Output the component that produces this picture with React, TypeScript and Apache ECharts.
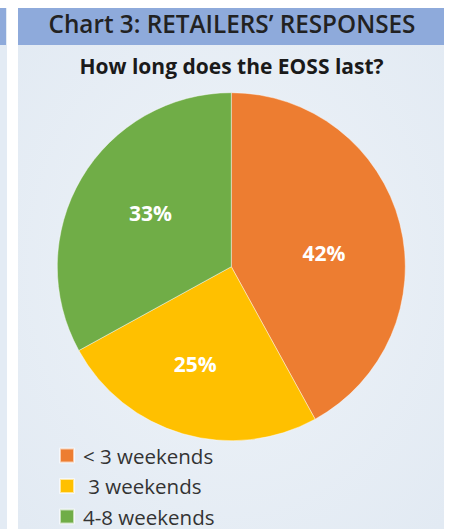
import React, { useEffect, useRef } from "react";
import * as echarts from "echarts";

const categories = ["< 3 weekends", " 3 weekends", "4-8 weekends"];
const values = [42, 25, 33];
const colors = ["#ED7D31", "#FFC000", "#70AD47"];
const labelOffsets = [
  [5.5, 8.5],
  [-11, 11.3],
  [-3.4, -7.9],
];
const headerTitle = "Chart 3: RETAILERS\u2019 RESPONSES";
const subTitle = "How long does the EOSS last?";

const FONT = "'Open Sans', 'Noto Sans', sans-serif";

export default function App() {
  const ref = useRef<HTMLDivElement>(null);
  useEffect(() => {
    if (!ref.current) return;
    const chart = echarts.init(ref.current, undefined, { renderer: "svg" });
    chart.setOption({
      animation: false,
      backgroundColor: "#ffffff",
      graphic: [
        { type: "rect", z: -10, shape: { x: 0, y: 8, width: 7, height: 521 }, style: { fill: "#E3EBF4" } },
        { type: "rect", z: -9, shape: { x: 0, y: 8, width: 6, height: 37 }, style: { fill: "#8EAADB" } },
        {
          type: "rect",
          z: -10,
          shape: { x: 18, y: 8, width: 426, height: 521 },
          style: {
            fill: new echarts.graphic.RadialGradient(0.5, 0.5, 0.7, [
              { offset: 0, color: "#EEF3F8" },
              { offset: 1, color: "#E2EAF3" },
            ]),
          },
        },
        { type: "rect", z: -9, shape: { x: 18, y: 8, width: 426, height: 37 }, style: { fill: "#8EAADB" } },
      ],
      title: [
        {
          text: headerTitle,
          left: 232,
          top: 11,
          padding: 0,
          textAlign: "center",
          textStyle: { fontFamily: FONT, fontWeight: 600, fontSize: 24.3, color: "#222222" },
        },
        {
          text: subTitle,
          left: 231.5,
          top: 55,
          padding: 0,
          textAlign: "center",
          textStyle: { fontFamily: FONT, fontWeight: "bold", fontSize: 21, color: "#1a1a1a" },
        },
      ],
      legend: {
        orient: "vertical",
        left: 59,
        top: 445,
        height: 90,
        padding: 0,
        itemWidth: 14,
        itemHeight: 14,
        itemGap: 9.5,
        icon: "rect",
        data: categories,
        textStyle: { fontFamily: FONT, fontSize: 20.5, color: "#333333", padding: [0, 0, 0, 4], lineHeight: 20 },
      },
      series: [
        {
          type: "pie",
          center: [231.3, 266.7],
          radius: 174,
          startAngle: 90,
          clockwise: true,
          silent: true,
          itemStyle: { borderColor: "rgba(255,255,255,0.6)", borderWidth: 0.7 },
          label: {
            position: "inner",
            formatter: "{c}%",
            fontFamily: FONT,
            fontWeight: "bold",
            fontSize: 21,
            color: "#ffffff",
          },
          labelLine: { show: false },
          labelLayout: (params: any) => ({
            dx: labelOffsets[params.dataIndex][0],
            dy: labelOffsets[params.dataIndex][1],
          }),
          data: categories.map((name, i) => ({
            name,
            value: values[i],
            itemStyle: { color: colors[i] },
          })),
        },
      ],
    });
    return () => chart.dispose();
  }, []);
  return (
    <div
      ref={ref}
      style={{ position: "fixed", left: 0, top: 0, width: 451, height: 529 }}
    />
  );
}
